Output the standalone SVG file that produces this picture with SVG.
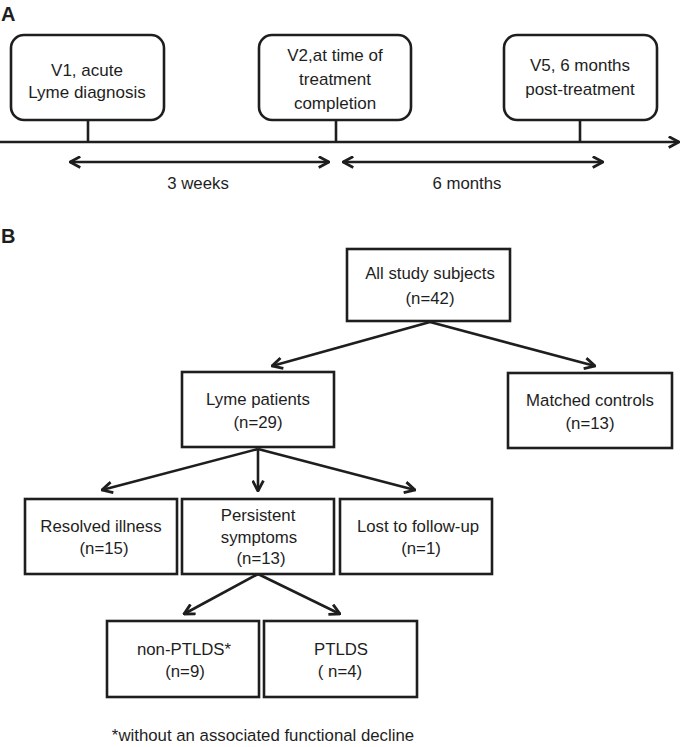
<svg xmlns="http://www.w3.org/2000/svg" width="682" height="747" viewBox="0 0 682 747">
<style>
.bg{fill:#ffffff}
.box{fill:#ffffff;stroke:#1e1e1e;stroke-width:2.6}
.t{font-family:"Liberation Sans",Arial,sans-serif;font-size:16.8px;fill:#1e1e1e;text-anchor:middle}
.ta{font-family:"Liberation Sans",Arial,sans-serif;font-size:17px;fill:#1e1e1e;text-anchor:middle}
.lbl{font-family:"Liberation Sans",Arial,sans-serif;font-size:20px;font-weight:bold;fill:#1e1e1e}
.ln{stroke:#1e1e1e;stroke-width:2.6;fill:none}
.ar{stroke:#1e1e1e;stroke-width:2.6;fill:none;marker-end:url(#ah)}
.dar{stroke:#1e1e1e;stroke-width:2.6;fill:none;marker-end:url(#ah);marker-start:url(#ah)}
</style>
<defs>
<marker id="ah" viewBox="0 0 12 12" refX="11" refY="6" markerWidth="13" markerHeight="13" markerUnits="userSpaceOnUse" orient="auto-start-reverse">
<path d="M1.5,1 L11,6 L1.5,11" fill="none" stroke="#1e1e1e" stroke-width="2.6"/>
</marker>
</defs>
<rect class="bg" x="0" y="0" width="682" height="747"/>
<text class="lbl" x="1" y="21">A</text>
<text class="lbl" x="1" y="243">B</text>

<g id="connectors">
<line class="ar" x1="0" y1="142" x2="679" y2="142"/>
<line class="ln" x1="88" y1="120" x2="88" y2="142"/>
<line class="ln" x1="336" y1="120" x2="336" y2="142"/>
<line class="ln" x1="580" y1="120" x2="580" y2="142"/>
<line class="dar" x1="70" y1="162" x2="329" y2="162"/>
<line class="dar" x1="343" y1="162" x2="603" y2="162"/>
<line class="ar" x1="430" y1="322" x2="272" y2="366"/>
<line class="ar" x1="430" y1="322" x2="595" y2="366"/>
<line class="ar" x1="258" y1="449" x2="102" y2="490"/>
<line class="ar" x1="258" y1="449" x2="258" y2="491"/>
<line class="ar" x1="258" y1="449" x2="415" y2="490"/>
<line class="ar" x1="258" y1="574" x2="184" y2="614"/>
<line class="ar" x1="258" y1="574" x2="340" y2="614"/>
</g>

<g id="v1">
<rect class="box" x="11" y="35" width="153" height="85" rx="13"/>
<text class="ta" x="87" y="76">V1, acute</text>
<text class="ta" x="87" y="98">Lyme diagnosis</text>
</g>
<g id="v2">
<rect class="box" x="259" y="35" width="152" height="85" rx="13"/>
<text class="ta" x="335" y="61">V2,at time of</text>
<text class="ta" x="335" y="85">treatment</text>
<text class="ta" x="335" y="109">completion</text>
</g>
<g id="v5">
<rect class="box" x="504" y="35" width="153" height="85" rx="13"/>
<text class="ta" x="580" y="71">V5, 6 months</text>
<text class="ta" x="580" y="95">post-treatment</text>
</g>
<g id="lbl-3weeks"><text class="t" x="198" y="189">3 weeks</text></g>
<g id="lbl-6months"><text class="t" x="467" y="189">6 months</text></g>

<g id="all">
<rect class="box" x="347" y="249" width="163" height="72"/>
<text class="t" x="430" y="279">All study subjects</text>
<text class="t" x="430" y="304">(n=42)</text>
</g>
<g id="lyme">
<rect class="box" x="182" y="372" width="152" height="75"/>
<text class="t" x="258" y="405">Lyme patients</text>
<text class="t" x="258" y="428">(n=29)</text>
</g>
<g id="controls">
<rect class="box" x="508" y="373" width="164" height="75"/>
<text class="t" x="590" y="406">Matched controls</text>
<text class="t" x="590" y="429">(n=13)</text>
</g>
<g id="resolved">
<rect class="box" x="25" y="499" width="152" height="75"/>
<text class="t" x="101" y="532">Resolved illness</text>
<text class="t" x="104" y="554">(n=15)</text>
</g>
<g id="persistent">
<rect class="box" x="182" y="499" width="152" height="75"/>
<text class="t" x="258" y="521">Persistent</text>
<text class="t" x="259" y="543">symptoms</text>
<text class="t" x="261" y="564">(n=13)</text>
</g>
<g id="lost">
<rect class="box" x="340" y="499" width="152" height="75"/>
<text class="t" x="418" y="532">Lost to follow-up</text>
<text class="t" x="421" y="554">(n=1)</text>
</g>
<g id="nonptlds">
<rect class="box" x="107" y="621" width="152" height="76"/>
<text class="t" x="184" y="655">non-PTLDS*</text>
<text class="t" x="185" y="677">(n=9)</text>
</g>
<g id="ptlds">
<rect class="box" x="264" y="621" width="153" height="76"/>
<text class="t" x="341" y="655">PTLDS</text>
<text class="t" x="340" y="677">( n=4)</text>
</g>
<g id="footnote"><text class="t" x="263" y="741">*without an associated functional decline</text></g>
</svg>
